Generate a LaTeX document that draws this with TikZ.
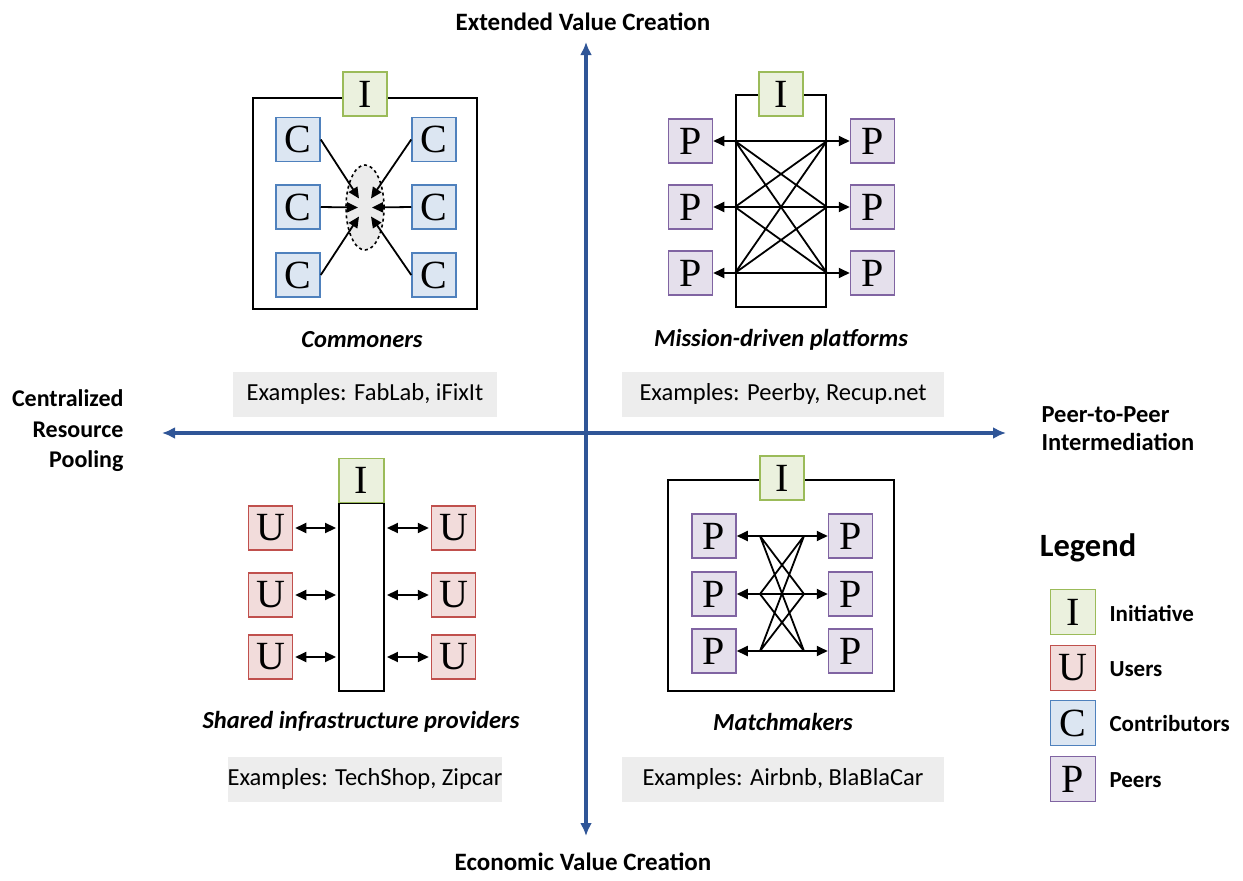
\documentclass[tikz,border=0pt]{standalone}
\usepackage{fontspec}
\setmainfont{Carlito}
\newfontfamily\letterfont{Liberation Serif}
\usetikzlibrary{arrows.meta,calc,shapes.geometric}
\definecolor{axisblue}{RGB}{47,85,151}
\definecolor{ifill}{RGB}{235,241,222}
\definecolor{iborder}{RGB}{155,187,89}
\definecolor{ufill}{RGB}{242,220,219}
\definecolor{uborder}{RGB}{192,80,77}
\definecolor{cfill}{RGB}{220,230,242}
\definecolor{cborder}{RGB}{79,129,189}
\definecolor{pfill}{RGB}{229,224,236}
\definecolor{pborder}{RGB}{128,100,162}
\definecolor{exfill}{RGB}{237,237,237}
\tikzset{
  letterbox/.style={draw, line width=1.5pt, minimum width=44pt, minimum height=44pt, inner sep=0pt, font=\letterfont\fontsize{40}{40}\selectfont},
  ibox/.style={letterbox, fill=ifill, draw=iborder},
  ubox/.style={letterbox, fill=ufill, draw=uborder},
  cbox/.style={letterbox, fill=cfill, draw=cborder},
  pbox/.style={letterbox, fill=pfill, draw=pborder},
  frame/.style={draw, line width=1.9pt, inner sep=0pt},
  axis/.style={draw=axisblue, line width=3.2pt, {Latex[length=13pt,width=12pt]}-{Latex[length=13pt,width=12pt]}},
  arr/.style={line width=1.8pt, -{Triangle[length=11pt,width=10pt]}},
  dbl/.style={line width=1.8pt, {Triangle[length=11pt,width=10pt]}-{Triangle[length=11pt,width=10pt]}},
  thin/.style={line width=1.8pt},
  axlabel/.style={font=\bfseries\fontsize{25}{30}\selectfont},
  qlabel/.style={font=\bfseries\itshape\fontsize{24.5}{28}\selectfont},
  exbox/.style={fill=exfill, inner sep=0pt, minimum height=45pt, font=\fontsize{24.5}{28}\selectfont},
  leglabel/.style={anchor=west, font=\bfseries\fontsize{23}{26}\selectfont},
}
\begin{document}
\begin{tikzpicture}[x=1pt,y=-1pt]
\useasboundingbox (0,0) rectangle (1243,881);
% axes
\coordinate (vt) at (586,42);
\coordinate (vb) at (586,836);
\coordinate (hl) at (162,433);
\coordinate (hr) at (1006,433);
\draw[axis] (vb) -- (vt);
\draw[axis] (hl) -- (hr);
\node[axlabel] (ltop) at (583,22) {Extended Value Creation};
\node[axlabel] (lbot) at (583,862) {Economic Value Creation};
\node[axlabel, align=right, anchor=east, font=\bfseries\fontsize{24}{30.5}\selectfont] (lleft) at (127,431) {Centralized\\Resource\\Pooling};
\node[axlabel, align=left, anchor=west, font=\bfseries\fontsize{24.5}{28}\selectfont] (lright) at (1038,429) {Peer-to-Peer\\Intermediation};

% ---------- Commoners ----------
\node[frame, minimum width=224pt, minimum height=211pt] (cF) at (365,203.5) {};
\node[ibox] (cI) at (365,94) {I};
\node[cbox] (cL1) at (298,139.5) {C};
\node[cbox] (cL2) at (298,207) {C};
\node[cbox] (cL3) at (298,275) {C};
\node[cbox] (cR1) at (434,139.5) {C};
\node[cbox] (cR2) at (434,207) {C};
\node[cbox] (cR3) at (434,275) {C};
\node[draw, dashed, line width=1.6pt, fill=black!8, ellipse, minimum width=38pt, minimum height=85pt, inner sep=0pt] (cE) at (365,207.5) {};
\draw[arr] (cL1.east) -- ($(cE.center)+(-6,-9)$);
\draw[arr] (cL2.east) -- ($(cE.center)+(-7,0)$);
\draw[arr] (cL3.east) -- ($(cE.center)+(-6,9)$);
\draw[arr] (cR1.west) -- ($(cE.center)+(6,-9)$);
\draw[arr] (cR2.west) -- ($(cE.center)+(7,0)$);
\draw[arr] (cR3.west) -- ($(cE.center)+(6,9)$);
\node[qlabel] (cT) at (362,340) {Commoners};
\node[exbox, minimum width=264pt] (cX) at (365,394) {Examples: FabLab, iFixIt};

% ---------- Mission-driven platforms ----------
\node[frame, minimum width=90pt, minimum height=212pt] (mF) at (781,201) {};
\node[ibox] (mI) at (781,94) {I};
\node[pbox] (mL1) at (690.5,141) {P};
\node[pbox] (mL2) at (690.5,207) {P};
\node[pbox] (mL3) at (690.5,273) {P};
\node[pbox] (mR1) at (872.5,141) {P};
\node[pbox] (mR2) at (872.5,207) {P};
\node[pbox] (mR3) at (872.5,273) {P};
\draw[dbl] (mL1.east) -- (mR1.west);
\draw[dbl] (mL2.east) -- (mR2.west);
\draw[dbl] (mL3.east) -- (mR3.west);
\coordinate (ma1) at (mF.west |- mL1);
\coordinate (ma2) at (mF.west |- mL2);
\coordinate (ma3) at (mF.west |- mL3);
\coordinate (mb1) at (mF.east |- mR1);
\coordinate (mb2) at (mF.east |- mR2);
\coordinate (mb3) at (mF.east |- mR3);
\draw[thin] (ma1) -- (mb2) (ma1) -- (mb3) (ma2) -- (mb1) (ma2) -- (mb3) (ma3) -- (mb1) (ma3) -- (mb2);
\node[qlabel] (mT) at (781,340) {Mission-driven platforms};
\node[exbox, minimum width=322pt] (mX) at (783,394) {Examples: Peerby, Recup.net};

% ---------- Shared infrastructure providers ----------
\node[frame, minimum width=45pt, minimum height=188pt] (sF) at (361.5,597) {};
\node[ibox, minimum width=45pt] (sI) at (361.5,480.5) {I};
\node[ubox] (sL1) at (270.5,528) {U};
\node[ubox] (sL2) at (270.5,595) {U};
\node[ubox] (sL3) at (270.5,657) {U};
\node[ubox] (sR1) at (453.5,528) {U};
\node[ubox] (sR2) at (453.5,595) {U};
\node[ubox] (sR3) at (453.5,657) {U};
\draw[dbl, shorten <=2pt, shorten >=2pt] (sL1.east) -- (sL1 -| sF.west);
\draw[dbl, shorten <=2pt, shorten >=2pt] (sL2.east) -- (sL2 -| sF.west);
\draw[dbl, shorten <=2pt, shorten >=2pt] (sL3.east) -- (sL3 -| sF.west);
\draw[dbl, shorten <=2pt, shorten >=2pt] (sR1 -| sF.east) -- (sR1.west);
\draw[dbl, shorten <=2pt, shorten >=2pt] (sR2 -| sF.east) -- (sR2.west);
\draw[dbl, shorten <=2pt, shorten >=2pt] (sR3 -| sF.east) -- (sR3.west);
\node[qlabel] (sT) at (361,722) {Shared infrastructure providers};
\node[exbox, minimum width=264pt] (sX) at (365,779) {Examples: TechShop, Zipcar};

% ---------- Matchmakers ----------
\node[frame, minimum width=226pt, minimum height=211pt] (kF) at (781,585.5) {};
\node[ibox] (kI) at (782,478) {I};
\node[pbox] (kL1) at (714,536) {P};
\node[pbox] (kL2) at (714,594) {P};
\node[pbox] (kL3) at (714,651) {P};
\node[pbox] (kR1) at (850.5,536) {P};
\node[pbox] (kR2) at (850.5,594) {P};
\node[pbox] (kR3) at (850.5,651) {P};
\draw[dbl] (kL1.east) -- (kR1.west);
\draw[dbl] (kL2.east) -- (kR2.west);
\draw[dbl] (kL3.east) -- (kR3.west);
\coordinate (ka1) at (760,536);
\coordinate (ka2) at (760,594);
\coordinate (ka3) at (760,651);
\coordinate (kb1) at (804,536);
\coordinate (kb2) at (804,594);
\coordinate (kb3) at (804,651);
\draw[thin] (ka1) -- (kb2) (ka1) -- (kb3) (ka2) -- (kb1) (ka2) -- (kb3) (ka3) -- (kb1) (ka3) -- (kb2);
\node[qlabel] (kT) at (783,722) {Matchmakers};
\node[exbox, minimum width=322pt] (kX) at (783,779) {Examples: Airbnb, BlaBlaCar};

% ---------- Legend ----------
\node[font=\bfseries\fontsize{32.5}{36}\selectfont] (lg) at (1088,548) {Legend};
\node[ibox, minimum width=45pt, minimum height=45pt] (lgI) at (1073,612) {I};
\node[ubox, minimum width=45pt, minimum height=45pt] (lgU) at (1073,668) {U};
\node[cbox, minimum width=45pt, minimum height=45pt] (lgC) at (1073,723) {C};
\node[pbox, minimum width=45pt, minimum height=45pt] (lgP) at (1073,779) {P};
\node[leglabel] (lgIt) at (1106,613) {Initiative};
\node[leglabel] (lgUt) at (1106,669) {Users};
\node[leglabel] (lgCt) at (1106,724) {Contributors};
\node[leglabel] (lgPt) at (1106,780) {Peers};
\end{tikzpicture}
\end{document}
